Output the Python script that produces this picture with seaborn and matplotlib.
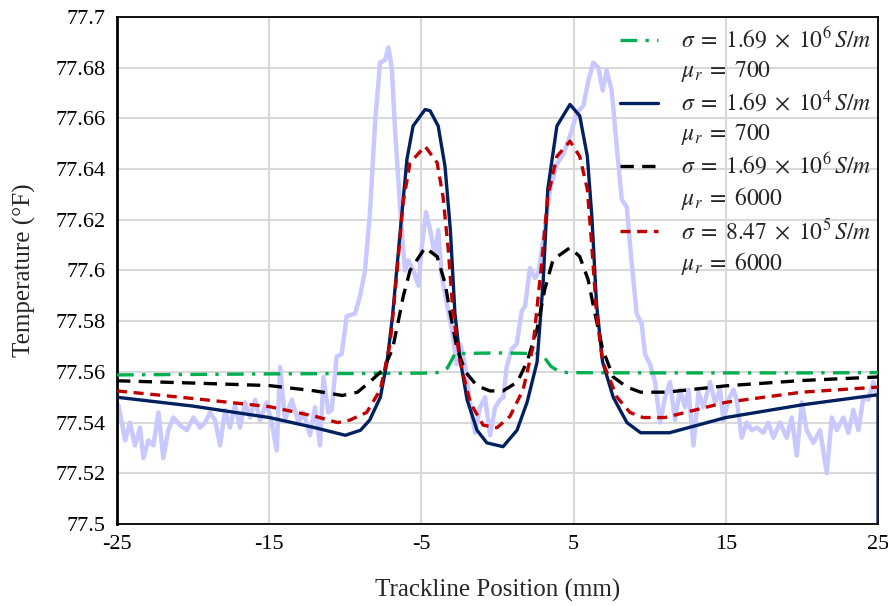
import matplotlib
matplotlib.use("Agg")
import matplotlib.pyplot as plt
from matplotlib.lines import Line2D
import seaborn as sns
import numpy as np

# trackline position (mm) and temperature (°F)
x_green = [-25, -15, -5, -4, -3.6, -3.3, -3.0, -2.8, 0, 2.8, 3.1, 3.5, 4.0, 4.6, 10, 15, 20, 25]
t_green = [77.5588, 77.5592, 77.5595, 77.5597, 77.5602, 77.5615, 77.5648, 77.5672, 77.5675, 77.5672,
           77.5655, 77.5622, 77.5603, 77.5597, 77.5596, 77.5596, 77.5596, 77.5597]

x_navy = [-25, -20, -15, -12, -10, -9.0, -8.4, -7.7, -7.26, -6.9, -6.4, -5.95, -5.55, -4.76, -4.43,
          -3.9, -3.45, -3.1, -2.8, -2.46, -2.0, -1.35, -0.7, 0.36, 1.28, 1.94, 2.6, 3.0, 3.3, 3.9,
          4.76, 5.4, 5.9, 6.2, 6.5, 6.9, 7.6, 8.5, 9.4, 11.3, 15, 20, 25, 25]
t_navy = [77.550, 77.5465, 77.542, 77.538, 77.535, 77.537, 77.541, 77.550, 77.564, 77.582, 77.615,
          77.644, 77.657, 77.6635, 77.663, 77.657, 77.641, 77.616, 77.583, 77.565, 77.549, 77.537,
          77.532, 77.5305, 77.537, 77.548, 77.564, 77.596, 77.632, 77.657, 77.6655, 77.661, 77.645,
          77.621, 77.587, 77.564, 77.550, 77.540, 77.536, 77.536, 77.542, 77.547, 77.551, 77.49]

x_black = [-25, -20, -15, -12, -10.2, -9.2, -8.4, -7.5, -6.9, -6.5, -6.2, -5.75, -4.76, -3.97, -3.45,
           -3.1, -2.66, -2.1, -1.35, -0.5, 0.36, 1.3, 1.94, 2.6, 3.1, 3.65, 4.76, 5.4, 5.95, 6.4,
           6.9, 7.6, 8.5, 9.4, 11.1, 15, 20, 25]
t_black = [77.5565, 77.5556, 77.5546, 77.5525, 77.5507, 77.552, 77.556, 77.561, 77.569, 77.5806,
           77.5897, 77.600, 77.609, 77.6055, 77.595, 77.583, 77.569, 77.560, 77.5545, 77.5525,
           77.5525, 77.556, 77.564, 77.577, 77.5925, 77.6043, 77.609, 77.6055, 77.5964, 77.583,
           77.569, 77.558, 77.554, 77.552, 77.552, 77.5545, 77.5566, 77.558]

x_red = [-25, -20, -15, -12, -10.5, -9.7, -8.6, -7.7, -7.06, -6.6, -6.2, -5.75, -4.76, -3.97, -3.58,
         -3.25, -2.92, -2.46, -1.8, -0.95, -0.03, 0.82, 1.68, 2.33, 2.9, 3.3, 3.9, 4.76, 5.4, 5.9,
         6.2, 6.5, 6.9, 7.85, 8.7, 9.56, 11.0, 15, 20, 25]
t_red = [77.5525, 77.5495, 77.5463, 77.5425, 77.540, 77.541, 77.544, 77.553, 77.571, 77.600, 77.627,
         77.6425, 77.649, 77.6425, 77.629, 77.609, 77.583, 77.564, 77.548, 77.539, 77.538, 77.5425,
         77.553, 77.570, 77.603, 77.629, 77.645, 77.651, 77.645, 77.632, 77.609, 77.583, 77.564,
         77.550, 77.544, 77.542, 77.542, 77.548, 77.552, 77.554]

# measured trace (light lavender)
x_meas = [-24.91, -24.47, -24.15, -23.82, -23.49, -23.27, -22.94, -22.61, -22.28, -21.96, -21.63,
          -21.30, -20.86, -20.42, -19.98, -19.55, -19.22, -18.89, -18.56, -18.23, -17.90, -17.58,
          -17.25, -16.92, -16.59, -16.26, -15.93, -15.61, -15.17, -14.84, -14.51, -14.29, -13.96,
          -13.52, -13.08, -12.76, -12.32, -11.99, -11.66, -11.44, -11.12, -10.90, -10.57, -10.24,
          -9.91, -9.36, -9.03, -8.71, -8.38, -8.05, -7.72, -7.39, -7.17, -6.95, -6.73, -6.52,
          -6.30, -6.08, -5.86, -5.53, -5.20, -4.98, -4.70, -4.43, -4.11, -3.89, -3.67, -3.34,
          -3.01, -2.68, -2.46, -2.14, -1.81, -1.48, -1.15, -0.82, -0.49, -0.16, 0.16, 0.38, 0.60,
          0.93, 1.26, 1.59, 1.81, 2.13, 2.46, 2.68, 3.01, 3.45, 3.89, 4.33, 4.76, 5.20, 5.64,
          5.97, 6.30, 6.62, 6.91, 7.17, 7.50, 7.83, 8.16, 8.49, 8.81, 9.14, 9.47, 9.69, 10.02,
          10.35, 10.68, 11.01, 11.33, 11.66, 11.99, 12.32, 12.54, 12.87, 13.20, 13.52, 13.96,
          14.29, 14.62, 14.84, 15.17, 15.50, 15.71, 16.04, 16.37, 16.70, 17.03, 17.46, 17.79,
          18.12, 18.56, 19.00, 19.33, 19.66, 19.99, 20.31, 20.75, 21.19, 21.63, 21.96, 22.29,
          22.72, 23.05, 23.38, 23.71, 24.04, 24.36, 24.69, 25.0]
t_meas = [77.547, 77.533, 77.540, 77.531, 77.538, 77.526, 77.533, 77.531, 77.544, 77.526, 77.537,
          77.542, 77.539, 77.537, 77.542, 77.538, 77.540, 77.544, 77.541, 77.531, 77.545, 77.538,
          77.547, 77.538, 77.548, 77.542, 77.549, 77.541, 77.548, 77.540, 77.529, 77.562, 77.541,
          77.549, 77.540, 77.544, 77.535, 77.546, 77.531, 77.558, 77.544, 77.545, 77.566, 77.567,
          77.582, 77.583, 77.590, 77.600, 77.623, 77.658, 77.682, 77.683, 77.688, 77.680, 77.655,
          77.636, 77.616, 77.600, 77.604, 77.600, 77.594, 77.609, 77.623, 77.616, 77.606, 77.616,
          77.598, 77.587, 77.577, 77.563, 77.571, 77.563, 77.548, 77.536, 77.546, 77.550, 77.535,
          77.546, 77.549, 77.550, 77.562, 77.569, 77.571, 77.584, 77.586, 77.601, 77.597, 77.599,
          77.612, 77.632, 77.642, 77.646, 77.653, 77.662, 77.665, 77.675, 77.682, 77.680, 77.671,
          77.679, 77.671, 77.649, 77.628, 77.625, 77.603, 77.583, 77.579, 77.567, 77.563, 77.556,
          77.540, 77.550, 77.556, 77.541, 77.553, 77.546, 77.553, 77.531, 77.552, 77.546, 77.556,
          77.548, 77.553, 77.541, 77.549, 77.553, 77.549, 77.534, 77.540, 77.537, 77.538, 77.536,
          77.540, 77.534, 77.540, 77.534, 77.542, 77.527, 77.548, 77.537, 77.532, 77.537, 77.520,
          77.542, 77.537, 77.542, 77.536, 77.545, 77.537, 77.550, 77.549, 77.556, 77.550]

sigma_labels = ["$\\sigma\\;=\\;1.69\\;\\times\\;10^{6}\\,S/m$",
                "$\\sigma\\;=\\;1.69\\;\\times\\;10^{4}\\,S/m$",
                "$\\sigma\\;=\\;1.69\\;\\times\\;10^{6}\\,S/m$",
                "$\\sigma\\;=\\;8.47\\;\\times\\;10^{5}\\,S/m$"]
mu_labels = ["$\\mu_r\\;=\\;700$", "$\\mu_r\\;=\\;700$", "$\\mu_r\\;=\\;6000$", "$\\mu_r\\;=\\;6000$"]

sns.set_style("white")
plt.rcParams["font.family"] = ["Liberation Serif", "DejaVu Serif"]
plt.rcParams["mathtext.fontset"] = "stix"

fig = plt.figure(figsize=(8.88, 6.06), dpi=100)
ax = fig.add_axes([0.1318, 0.1353, 0.857, 0.8367])

sns.lineplot(x=x_meas, y=t_meas, ax=ax, color="#C9C9FF", lw=3.2, sort=False, estimator=None,
             legend=False, zorder=2)
sns.lineplot(x=x_green, y=t_green, ax=ax, color="#00B050", lw=2.4, sort=False,
             estimator=None, legend=False, zorder=3)
ax.lines[-1].set_dashes((5, 2.5, 1, 2.5))
sns.lineplot(x=x_navy, y=t_navy, ax=ax, color="#002060", lw=2.4, sort=False, estimator=None,
             legend=False, zorder=3)
sns.lineplot(x=x_black, y=t_black, ax=ax, color="black", lw=2.4, sort=False, estimator=None,
             legend=False, zorder=4)
ax.lines[-1].set_dashes((4, 2.5))
sns.lineplot(x=x_red, y=t_red, ax=ax, color="#C00000", lw=2.4, sort=False, estimator=None,
             legend=False, zorder=5)
ax.lines[-1].set_dashes((3, 2))

series_lines = ax.lines[1:5]
handles, texts = [], []
for ln, s_lab, m_lab in zip(series_lines, sigma_labels, mu_labels):
    handles += [ln, Line2D([], [], linestyle="none")]
    texts += [s_lab, m_lab]

ax.set_xlim(-25, 25)
ax.set_ylim(77.5, 77.7)
xt = np.arange(-25, 26, 10)
yt = np.round(np.arange(77.5, 77.7001, 0.02), 2)
ax.set_xticks(xt)
ax.set_yticks(yt)
ax.set_xticklabels([f"{v:g}" for v in xt])
ax.set_yticklabels([f"{v:g}" for v in yt])
ax.tick_params(axis="both", length=0, labelsize=16, pad=8, colors="black")
ax.grid(True, color="#D9D9D9", lw=1.5)
ax.set_axisbelow(True)
for side in ["left", "right", "top", "bottom"]:
    ax.spines[side].set_visible(True)
    ax.spines[side].set_color("black")
    ax.spines[side].set_linewidth(1.3)
ax.spines["left"].set_linewidth(2)

ax.set_xlabel("Trackline Position (mm)", fontsize=18, labelpad=18)
ax.set_ylabel("Temperature (°F)", fontsize=18, labelpad=14)

ax.legend(handles, texts, loc="upper right", bbox_to_anchor=(1.01, 1.008), frameon=False,
          fontsize=17, handlelength=1.6, labelspacing=0.25, handletextpad=1.0, borderaxespad=0.2)

fig.savefig("out.png", dpi=100)
